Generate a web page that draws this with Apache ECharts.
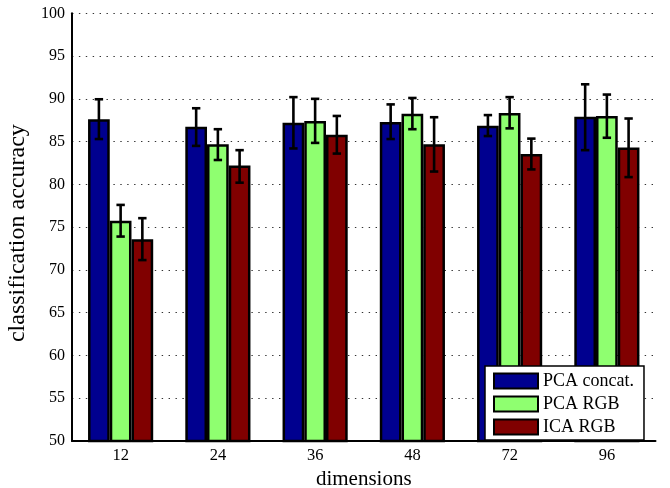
<!DOCTYPE html>
<html>
<head>
<meta charset="utf-8">
<script src="https://cdn.jsdelivr.net/npm/echarts@6/dist/echarts.min.js"></script>
<style>html,body{margin:0;padding:0;background:#fff}#c{width:670px;height:488px}</style>
</head>
<body>
<div id="c"></div>
<script>
const categories = ['12', '24', '36', '48', '72', '96'];
const seriesNames = ['PCA concat.', 'PCA RGB', 'ICA RGB'];
const pcaConcat = [87.6, 86.75, 87.2, 87.3, 86.85, 87.9];
const pcaConcatLow = [85.3, 84.5, 84.2, 85.3, 85.65, 84.0];
const pcaConcatHigh = [89.95, 88.9, 90.2, 89.35, 88.1, 91.7];
const pcaRgb = [75.75, 84.7, 87.4, 88.25, 88.35, 88.0];
const pcaRgbLow = [73.9, 82.85, 84.85, 86.45, 86.55, 85.45];
const pcaRgbHigh = [77.6, 86.45, 90.0, 90.1, 90.2, 90.5];
const icaRgb = [73.6, 82.2, 85.8, 84.7, 83.55, 84.3];
const icaRgbLow = [71.15, 80.2, 83.6, 81.5, 81.75, 80.85];
const icaRgbHigh = [76.05, 84.0, 88.0, 87.85, 85.35, 87.7];
const yTicks = { min: 50, max: 100, interval: 5 };

const colors = ['#00008F', '#8FFF70', '#800000'];
const means = [pcaConcat, pcaRgb, icaRgb];
const lows = [pcaConcatLow, pcaRgbLow, icaRgbLow];
const highs = [pcaConcatHigh, pcaRgbHigh, icaRgbHigh];
const CAT_GAP = 0.33;
const FONT = 'Liberation Serif';

const errData = [];
for (let s = 0; s < 3; s++) {
  for (let i = 0; i < categories.length; i++) {
    errData.push([i, lows[s][i], highs[s][i], s]);
  }
}

const barSeries = seriesNames.map((name, s) => ({
  name: name,
  type: 'bar',
  data: means[s],
  barGap: '0%',
  barCategoryGap: (CAT_GAP * 100) + '%',
  itemStyle: { color: colors[s], borderColor: '#000', borderWidth: 2.5 },
  emphasis: { disabled: true },
  z: 2
}));

const errSeries = {
  type: 'custom',
  data: errData,
  encode: { x: 0, y: [1, 2] },
  z: 5,
  silent: true,
  renderItem: function (params, api) {
    const ci = api.value(0), lo = api.value(1), hi = api.value(2), si = api.value(3);
    const bandW = api.size([1, 0])[0];
    const barW = bandW * (1 - CAT_GAP) / 3;
    const pLo = api.coord([ci, lo]);
    const pHi = api.coord([ci, hi]);
    const cx = pLo[0] + (si - 1) * barW;
    const cap = 4.2;
    const st = { stroke: '#000', lineWidth: 2.6, fill: null };
    return {
      type: 'group',
      children: [
        { type: 'line', shape: { x1: cx, y1: pLo[1], x2: cx, y2: pHi[1] }, style: st },
        { type: 'line', shape: { x1: cx - cap, y1: pLo[1], x2: cx + cap, y2: pLo[1] }, style: st },
        { type: 'line', shape: { x1: cx - cap, y1: pHi[1], x2: cx + cap, y2: pHi[1] }, style: st }
      ]
    };
  }
};

const chart = echarts.init(document.getElementById('c'), null, { renderer: 'canvas' });
chart.setOption({
  animation: false,
  backgroundColor: '#fff',
  grid: { left: 72, right: 14.5, top: 13.3, bottom: 47, containLabel: false, outerBoundsMode: 'none' },
  legend: {
    data: seriesNames,
    orient: 'vertical',
    left: 485,
    top: 366,
    padding: [6, 10, 4, 8],
    itemGap: 5,
    itemWidth: 44,
    itemHeight: 15,
    icon: 'rect',
    backgroundColor: '#fff',
    borderColor: '#000',
    borderWidth: 1.5,
    borderRadius: 0,
    selectedMode: false,
    textStyle: { fontFamily: FONT, fontSize: 18, color: '#000', lineHeight: 17 },
    z: 10
  },
  xAxis: {
    type: 'category',
    data: categories,
    name: 'dimensions',
    nameLocation: 'middle',
    nameGap: 24,
    nameTextStyle: { fontFamily: FONT, fontSize: 21, color: '#000' },
    axisLine: { show: true, lineStyle: { color: '#000', width: 2 } },
    axisTick: { show: false },
    axisLabel: { fontFamily: FONT, fontSize: 16.5, color: '#000', margin: 6 },
    splitLine: { show: false }
  },
  yAxis: {
    type: 'value',
    min: yTicks.min,
    max: yTicks.max,
    interval: yTicks.interval,
    name: 'classification accuracy',
    nameLocation: 'middle',
    nameGap: 34,
    nameRotate: 90,
    nameTextStyle: { fontFamily: FONT, fontSize: 24, color: '#000', padding: [0, 12, 0, 0] },
    axisLine: { show: true, lineStyle: { color: '#000', width: 2 } },
    axisTick: { show: false },
    axisLabel: { fontFamily: FONT, fontSize: 16, color: '#000', margin: 7 },
    splitLine: { show: true, lineStyle: { color: '#333', width: 1.2, type: [1.4, 5.5] } }
  },
  series: barSeries.concat([errSeries])
});
</script>
</body>
</html>
